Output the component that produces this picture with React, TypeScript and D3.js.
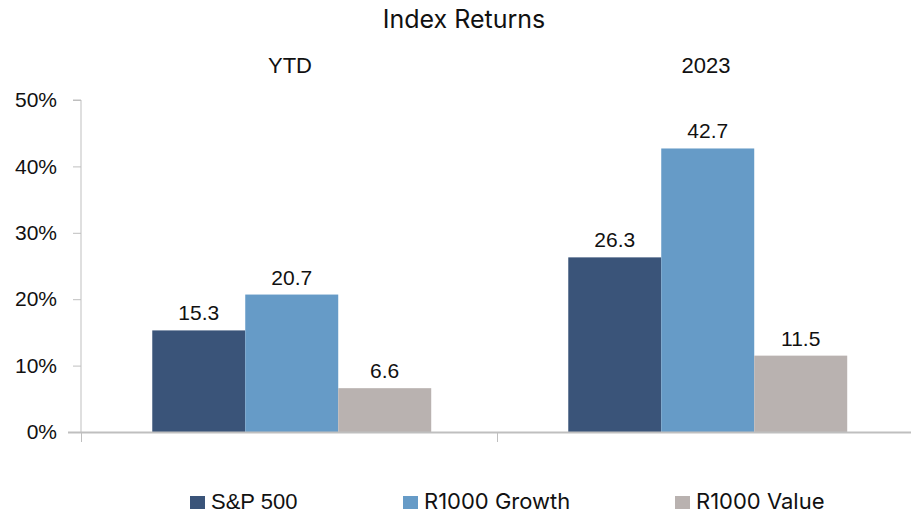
import { useRef, useEffect } from "react";
import * as d3 from "d3";

const categories = ["YTD", "2023"];
const seriesNames = ["S&P 500", "R1000 Growth", "R1000 Value"];
const sp500 = [15.3, 26.3];
const growth = [20.7, 42.7];
const value = [6.6, 11.5];
const yTicks = [0, 10, 20, 30, 40, 50];
const colors = ["#3a5479", "#669bc7", "#b9b2b0"];

export default function App() {
  const svgRef = useRef<SVGSVGElement>(null);

  useEffect(() => {
    const svg = d3.select(svgRef.current);
    svg.selectAll("*").remove();

    const width = 911;
    const height = 514;
    const margin = { top: 100, right: -2, bottom: 82, left: 81 };
    const labelFont = "'Liberation Sans', Arial, sans-serif";
    const headFont = "Inter, 'Noto Sans', sans-serif";

    const series = [sp500, growth, value];

    const x0 = d3
      .scaleBand()
      .domain(categories)
      .range([margin.left, width - margin.right])
      .paddingInner(0)
      .paddingOuter(0);

    const x1 = d3
      .scaleBand()
      .domain(seriesNames)
      .range([0, x0.bandwidth()])
      .paddingOuter(0.737)
      .paddingInner(0)
      .align(0.52);

    const y = d3
      .scaleLinear()
      .domain([0, 50])
      .range([height - margin.bottom, margin.top]);

    // Title
    svg
      .append("text")
      .attr("x", 464)
      .attr("y", 28)
      .attr("text-anchor", "middle")
      .attr("font-family", headFont)
      .attr("font-size", 25)
      .attr("fill", "#111")
      .text("Index Returns");

    // Category headers
    svg
      .append("g")
      .selectAll("text")
      .data(categories)
      .join("text")
      .attr("x", (d) => x0(d)! + x0.bandwidth() / 2 + 1)
      .attr("y", 73)
      .attr("text-anchor", "middle")
      .attr("font-family", labelFont)
      .attr("font-size", 22)
      .attr("fill", "#111")
      .text((d) => d);

    // Y axis
    const yAxis = svg
      .append("g")
      .attr("transform", `translate(${margin.left},0)`)
      .call(
        d3
          .axisLeft(y)
          .tickValues(yTicks)
          .tickSize(8)
          .tickPadding(16)
          .tickFormat((d) => `${d}%`)
      );
    yAxis.select(".domain").attr("stroke", "#bfbfbf").attr("d", `M-8,${y(50)}H0V${y(0) + 1}`);
    yAxis.selectAll(".tick line").attr("stroke", "#bfbfbf");
    yAxis
      .selectAll(".tick text")
      .attr("font-family", labelFont)
      .attr("font-size", 21)
      .attr("fill", "#111");

    // Bars
    const groups = svg
      .append("g")
      .selectAll("g")
      .data(categories)
      .join("g")
      .attr("transform", (d) => `translate(${x0(d)},0)`);

    groups
      .selectAll("rect")
      .data((_, i) => seriesNames.map((s, k) => ({ s, k, v: series[k][i] })))
      .join("rect")
      .attr("x", (d) => x1(d.s)!)
      .attr("y", (d) => y(d.v))
      .attr("width", x1.bandwidth())
      .attr("height", (d) => y(0) - y(d.v))
      .attr("fill", (d) => colors[d.k]);

    groups
      .selectAll("text")
      .data((_, i) => seriesNames.map((s, k) => ({ s, k, v: series[k][i] })))
      .join("text")
      .attr("x", (d) => x1(d.s)! + x1.bandwidth() / 2)
      .attr("y", (d) => y(d.v) - 10)
      .attr("text-anchor", "middle")
      .attr("font-family", labelFont)
      .attr("font-size", 21)
      .attr("fill", "#111")
      .text((d) => d.v.toFixed(1));

    // X axis
    const xAxisG = svg.append("g");
    xAxisG
      .append("line")
      .attr("x1", 68)
      .attr("x2", width)
      .attr("y1", y(0) + 0.5)
      .attr("y2", y(0) + 0.5)
      .attr("stroke", "#bfbfbf")
      .attr("stroke-width", 2);
    xAxisG
      .selectAll("line.tk")
      .data([margin.left, x0("2023")!])
      .join("line")
      .attr("class", "tk")
      .attr("x1", (d) => d + 0.5)
      .attr("x2", (d) => d + 0.5)
      .attr("y1", y(0))
      .attr("y2", y(0) + 10)
      .attr("stroke", "#bfbfbf");

    // Legend
    const legendX = [190, 403, 675];
    const legendFonts = [labelFont, headFont, headFont];
    const legend = svg
      .append("g")
      .selectAll("g")
      .data(seriesNames)
      .join("g")
      .attr("transform", (_, i) => `translate(${legendX[i]},496)`);
    legend
      .append("rect")
      .attr("width", 15)
      .attr("height", 13)
      .attr("fill", (_, i) => colors[i]);
    legend
      .append("text")
      .attr("x", 21)
      .attr("y", 13)
      .attr("font-family", (_, i) => legendFonts[i])
      .attr("font-size", 22)
      .attr("fill", "#111")
      .text((d) => d);
  }, []);

  return (
    <svg
      ref={svgRef}
      width={911}
      height={514}
      style={{ position: "absolute", left: 0, top: 0, background: "#fff" }}
    />
  );
}
